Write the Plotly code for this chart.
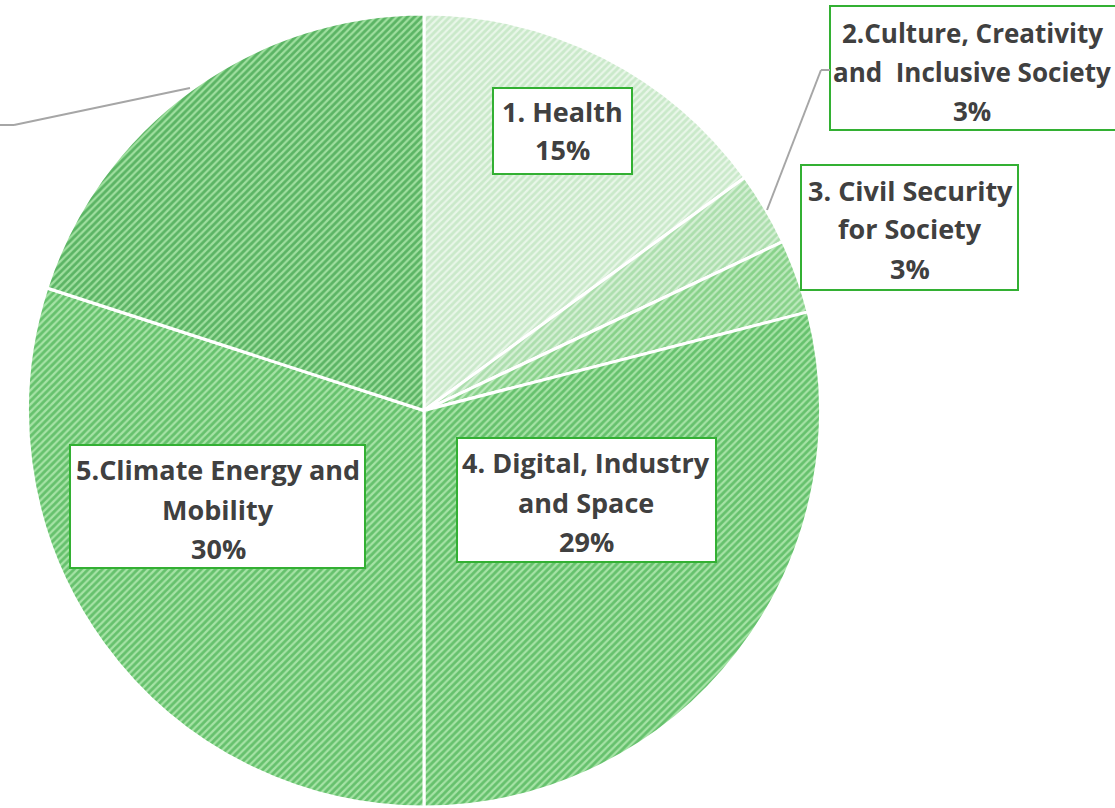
import plotly.graph_objects as go

W, H = 1115, 808

# slice data, clockwise from 12 o'clock
labels = ["1. Health", "2.Culture, Creativity and  Inclusive Society",
          "3. Civil Security for Society", "4. Digital, Industry and Space",
          "5.Climate Energy and Mobility",
          "6. Food, Bioeconomy, Natural Resources, Agriculture and Environment"]
shares = [15, 3, 3, 29, 30, 20]
pct_text = ["15%", "3%", "3%", "29%", "30%", "20%"]

# label text split the way the boxes show it
label_lines = [
    ["1. Health"],
    ["2.Culture, Creativity", "and  Inclusive Society"],
    ["3. Civil Security", "for Society"],
    ["4. Digital, Industry", "and Space"],
    ["5.Climate Energy and", "Mobility"],
]

bg_cols = ["#e8f6e8", "#d4efd4", "#bce9bc", "#a6e3a6", "#a6e3a6", "#9fdf9f"]
fg_cols = ["#acdcac", "#84cd86", "#52ba56", "#259f34", "#259f34", "#17892a"]

def px(x):
    return x / W

def py(y):
    return 1 - y / H

fig = go.Figure()
fig.add_trace(go.Pie(
    labels=labels, values=shares, sort=False, direction="clockwise", rotation=0,
    textinfo="none", hoverinfo="label+percent", showlegend=False,
    domain=dict(x=[px(27), px(821)], y=[py(807), py(14)]),
    marker=dict(colors=bg_cols, line=dict(color="white", width=3),
                pattern=dict(shape="/", fillmode="overlay", fgcolor=fg_cols,
                             size=5, solidity=0.55)),
))

# label boxes (pixel rects) and the centre of the text column
boxes = [(493, 88, 632, 174), (830, 6, 1125, 130), (801, 165, 1018, 290),
         (457, 438, 716, 562), (70, 445, 365, 568)]
text_x = [562, 972, 910, 586, 218]
first_y = [111, 33, 190, 463, 470]
text_size = [27, 26, 27, 27, 27]
line_gap = 39

shapes = []
annos = []
for i, (x0, y0, x1, y1) in enumerate(boxes):
    shapes.append(dict(type="rect", xref="paper", yref="paper",
                       x0=px(x0), x1=px(x1), y0=py(y1), y1=py(y0),
                       line=dict(color="#33b033", width=2), fillcolor="white"))
    lines = label_lines[i] + [pct_text[i]]
    for k, t in enumerate(lines):
        annos.append(dict(text=t, xref="paper", yref="paper",
                          x=px(text_x[i]), y=py(first_y[i] + k * line_gap),
                          xanchor="center", yanchor="middle", showarrow=False,
                          font=dict(family="Open Sans", size=text_size[i],
                                    color="#404040", weight="bold")))

# leader lines
leaders = [[(767, 210), (821, 70), (830, 70)],
           [(190, 88), (14, 125), (0, 125)]]
for pts in leaders:
    for (xa, ya), (xb, yb) in zip(pts[:-1], pts[1:]):
        shapes.append(dict(type="line", xref="paper", yref="paper",
                           x0=px(xa), y0=py(ya), x1=px(xb), y1=py(yb),
                           line=dict(color="#a6a6a6", width=2)))

fig.update_layout(width=W, height=H, margin=dict(l=0, r=0, t=0, b=0),
                  paper_bgcolor="white", plot_bgcolor="white",
                  shapes=shapes, annotations=annos)

# page body has a default 8px margin; drop it so the figure sits at 0,0
fig.write_html("out.html", config={"displayModeBar": False},
               post_script="document.body.style.margin='0';")
